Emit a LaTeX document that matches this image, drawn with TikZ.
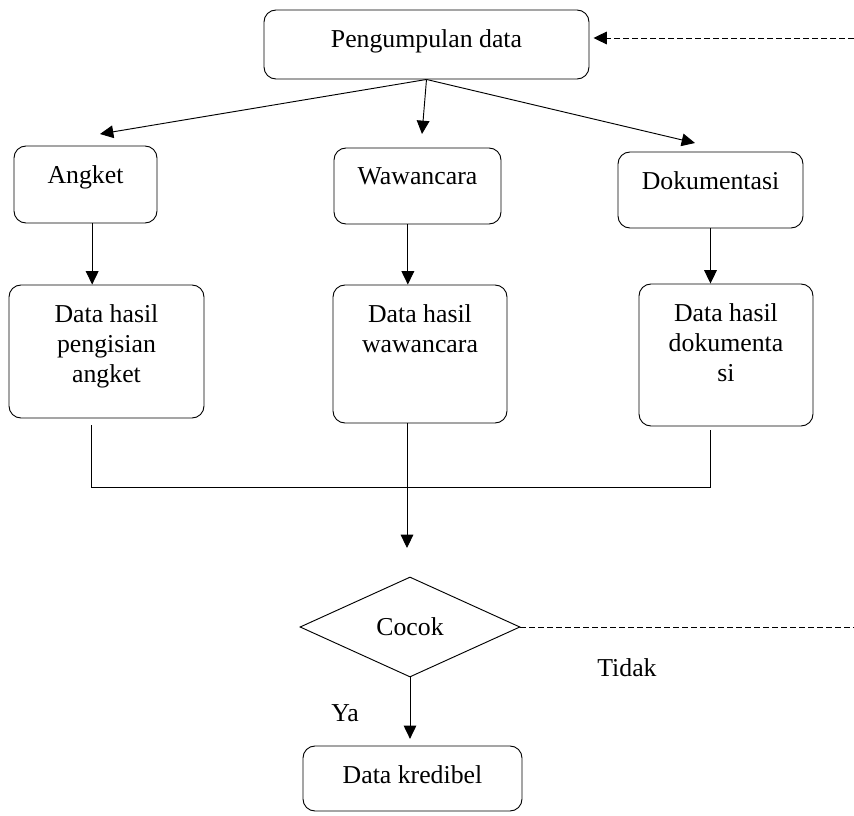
\documentclass[tikz,border=0pt]{standalone}
\usepackage{fontspec}
\setmainfont{Liberation Serif}
\usetikzlibrary{shapes.geometric,arrows.meta,positioning,calc}

\begin{document}
\begin{tikzpicture}[x=0.03cm,y=-0.03cm,
		font=\fontsize{22}{25.6}\selectfont,
		box/.style={draw,rounded corners=0.36cm,line width=0.8pt,inner sep=0pt},
		txt/.style={anchor=north,inner sep=0pt,yshift=-0.6cm,align=center},
		arr/.style={line width=0.8pt,-{Triangle[length=0.4cm,width=0.38cm]}},
		ln/.style={line width=0.8pt},
		dsh/.style={line width=0.8pt,dash pattern=on 0.18cm off 0.09cm}]
		\useasboundingbox (0,0) rectangle (854,816);
		% boxes
		\node[box,minimum width=9.75cm,minimum height=2.07cm,label={[txt]north:Pengumpulan data}] (pd) at (426.5,44.5) {};
		\node[box,minimum width=4.29cm,minimum height=2.31cm,label={[txt]north:Angket}] (ak) at (85.5,184.5) {};
		\node[box,minimum width=5.01cm,minimum height=2.28cm,label={[txt]north:Wawancara}] (ww) at (417.5,186) {};
		\node[box,minimum width=5.55cm,minimum height=2.28cm,label={[txt]north:Dokumentasi}] (dk) at (710.5,190) {};
		\node[box,minimum width=5.85cm,minimum height=3.99cm,label={[txt]north:Data hasil\\pengisian\\angket}] (hak) at (106.5,351.5) {};
		\node[box,minimum width=5.22cm,minimum height=4.14cm,label={[txt]north:Data hasil\\wawancara}] (hww) at (420,354) {};
		\node[box,minimum width=5.22cm,minimum height=4.26cm,label={[txt]north:Data hasil\\dokumenta\\si}] (hdk) at (726,355) {};
		\node[draw,diamond,line width=0.8pt,inner sep=0pt,aspect=2.2,minimum width=6.6cm,minimum height=3cm] (ck) at (410,627) {Cocok};
		\node[box,minimum width=6.57cm,minimum height=1.95cm,label={[txt]north:Data kredibel}] (kr) at (412.5,778.5) {};
		\node (td) at (627,668) {Tidak};
		\node (ya) at (345,713) {Ya};
		%
		\coordinate (a1) at (100,134);
		\coordinate (a2) at (422,134);
		\coordinate (a3) at (695,143);
		\coordinate (jl) at (91,487);
		\coordinate (jr) at (710,487);
		\coordinate (jm) at (407,548);
		\coordinate (b1) at (854,38);
		\coordinate (b2) at (854,627);
		%
		\draw[arr] (pd.south) -- (a1);
		\draw[arr] (pd.south) -- (a2);
		\draw[arr] (pd.south) -- (a3);
		\draw[arr] ([xshift=0.2cm]ak.south) -- ([xshift=0.2cm]ak.south |- hak.north);
		\draw[arr] ([xshift=-0.29cm]ww.south) -- ([xshift=-0.29cm]ww.south |- hww.north);
		\draw[arr] (dk.south) -- (dk.south |- hdk.north);
		\draw[ln] ([yshift=-0.2cm]jl |- hak.south) -- (jl) -- (jr) -- ([yshift=-0.12cm]jr |- hdk.south);
		\draw[arr] (hww.south -| jm) -- (jm);
		\draw[arr] (ck.south) -- ([yshift=0.2cm]ck.south |- kr.north);
		\draw[dsh] (ck.east) -- (b2);
		\draw[dsh,arr,shorten >=0.12cm] (b1) -- (pd.east |- b1);
\end{tikzpicture}
\end{document}
